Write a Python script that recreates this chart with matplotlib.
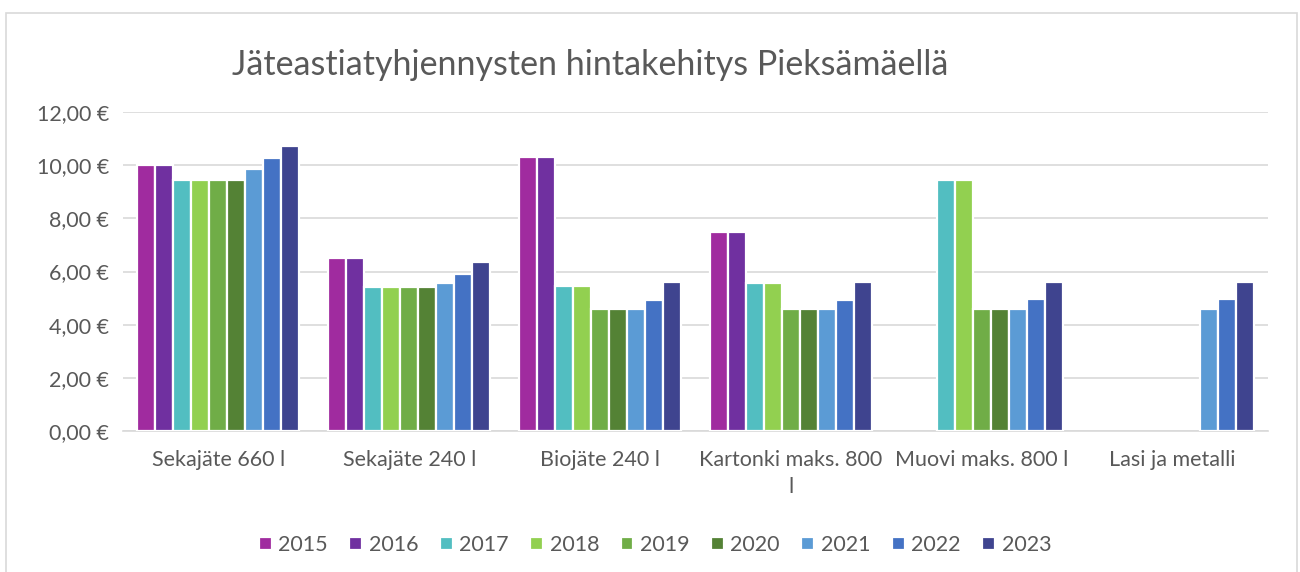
import numpy as np
import matplotlib.pyplot as plt
from matplotlib.patches import Rectangle

plt.rcParams['font.family'] = ['Lato', 'DejaVu Sans']

# Data
categories = ["Sekajäte 660 l", "Sekajäte 240 l", "Biojäte 240 l",
              "Kartonki maks. 800\nl", "Muovi maks. 800 l", "Lasi ja metalli"]
years = ["2015", "2016", "2017", "2018", "2019", "2020", "2021", "2022", "2023"]
nan = np.nan
prices = {
    "2015": [10.00, 6.51, 10.32, 7.47, nan, nan],
    "2016": [10.00, 6.51, 10.32, 7.47, nan, nan],
    "2017": [9.44, 5.43, 5.44, 5.57, 9.44, nan],
    "2018": [9.44, 5.43, 5.44, 5.57, 9.44, nan],
    "2019": [9.44, 5.43, 4.60, 4.60, 4.60, nan],
    "2020": [9.44, 5.43, 4.60, 4.60, 4.60, nan],
    "2021": [9.84, 5.57, 4.60, 4.60, 4.60, 4.60],
    "2022": [10.27, 5.90, 4.94, 4.94, 4.95, 4.95],
    "2023": [10.73, 6.35, 5.59, 5.59, 5.59, 5.59],
}
colors = ["#A02B9F", "#7030A0", "#52BEC1", "#92D050", "#70AD47",
          "#548235", "#5B9BD5", "#4472C4", "#3F448F"]

grey = "#595959"
fig = plt.figure(figsize=(13, 5.72), dpi=100)
ax = fig.add_axes([123/1300, 1-431/572, (1268-123)/1300, (431-112)/572])

# chart border
fig.patches.append(Rectangle((6/1300, -0.05), (1297-6)/1300, 1-13/572+0.05,
                             transform=fig.transFigure, fill=False,
                             edgecolor="#D9D9D9", linewidth=1.2))

x = np.arange(len(categories))
pitch = 0.0943
for i, y in enumerate(years):
    off = (i - 4) * pitch
    ax.bar(x + off, prices[y], width=pitch, color=colors[i],
           edgecolor="white", linewidth=1.6, label=y, zorder=3)

ax.set_xlim(-0.5, 5.5)
ax.set_ylim(0, 12)
ax.set_yticks(np.arange(0, 13, 2))
ax.set_yticklabels([f"{v:.2f} €".replace(".", ",") for v in np.arange(0, 13, 2)])
ax.set_xticks(x)
ax.set_xticklabels(categories, linespacing=1.4)
ax.tick_params(axis="both", length=0, labelsize=15.5, colors=grey)
ax.tick_params(axis="y", pad=10)
ax.tick_params(axis="x", pad=14)
ax.grid(axis="y", color="#D9D9D9", linewidth=1.2, zorder=0)
for s in ["top", "right", "left"]:
    ax.spines[s].set_visible(False)
ax.spines["bottom"].set_color("#D9D9D9")
ax.spines["bottom"].set_linewidth(1.2)

fig.text(590/1300, 1-65/572, "Jäteastiatyhjennysten hintakehitys Pieksämäellä",
         ha="center", va="center", fontsize=24.5, color=grey)

fig.legend(loc="center", bbox_to_anchor=(655/1300, 1-545/572), ncol=9,
           frameon=False, fontsize=15.5, labelcolor=grey, handlelength=0.6,
           handleheight=0.6, handletextpad=0.3, columnspacing=1.0)

fig.savefig("out.png", dpi=100)
